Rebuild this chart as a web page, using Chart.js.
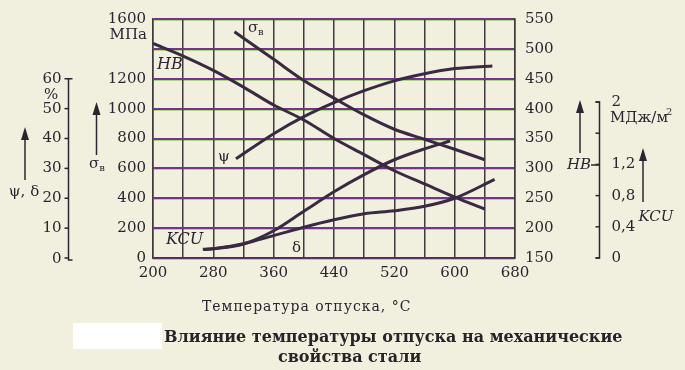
<!DOCTYPE html>
<html>
<head>
<meta charset="utf-8">
<script src="https://cdn.jsdelivr.net/npm/chart.js@4"></script>
<style>
  html, body { margin: 0; padding: 0; background: #f1f0df; }
  #wrap { width: 685px; height: 370px; position: relative; }
</style>
</head>
<body>
<div id="wrap"><canvas id="tempChart"></canvas></div>
<script>
(function() {
  var ink = '#2c2430';
  var gridV = '#403a3e';
  var gridH = '#74348c';
  var serif = '"DejaVu Serif", "Liberation Serif", serif';

  /* Data: temperature (°C) and values */
  var hbTemp   = [200, 240, 280, 320, 360, 400, 440, 480, 520, 560, 600, 640];
  var hbVal    = [509, 488, 464, 436, 406, 381, 350, 323, 296, 274, 252, 232];

  var sigTemp  = [308, 360, 400, 440, 480, 520, 560, 600, 640];
  var sigVal   = [1514, 1330, 1188, 1070, 958, 862, 795, 728, 658];

  var psiTemp  = [310, 360, 400, 440, 480, 520, 560, 600, 650];
  var psiVal   = [33.2, 41.6, 47.3, 52.0, 56.0, 59.3, 61.7, 63.4, 64.3];

  var deltaTemp = [266, 280, 320, 360, 400, 440, 480, 520, 560, 600, 653];
  var deltaVal  = [2.9, 3.1, 4.8, 7.5, 10.3, 12.8, 14.8, 15.8, 17.3, 20.0, 26.3];

  var kcuTemp  = [267, 280, 320, 360, 400, 440, 480, 520, 560, 594];
  var kcuVal   = [0.11, 0.12, 0.18, 0.35, 0.60, 0.85, 1.07, 1.26, 1.40, 1.50];

  /* Tick labels */
  var xLabelled   = [200, 280, 360, 440, 520, 600, 680];
  var pctTicks    = [0, 10, 20, 30, 40, 50, 60];
  var kcuTicks    = [0, 0.4, 0.8, 1.2, 1.6, 2];
  var kcuTickText = ['0', '0,4', '0,8', '1,2', '', '2'];

  function pairs(xs, ys) {
    return xs.map(function(x, i) { return { x: x, y: ys[i] }; });
  }

  function curve(data, axis) {
    return {
      data: data,
      yAxisID: axis,
      borderColor: '#3a2942',
      borderWidth: 3,
      pointRadius: 0,
      fill: false,
      showLine: true,
      tension: 0.4,
      cubicInterpolationMode: 'monotone'
    };
  }

  /* Background, side brackets, arrows and labels */
  var decor = {
    id: 'decor',
    beforeDraw: function(chart) {
      var c = chart.ctx;
      c.save();
      c.fillStyle = '#f1f0df';
      c.fillRect(0, 0, chart.width, chart.height);
      /* pale green doubling under the purple grid lines, as in the print */
      var ys = chart.scales.y;
      var area = chart.chartArea;
      c.strokeStyle = 'rgba(120, 190, 60, 0.55)';
      c.lineWidth = 1;
      ys.ticks.forEach(function(t) {
        var py = Math.round(ys.getPixelForValue(t.value)) + 1.5;
        c.beginPath();
        c.moveTo(area.left, py);
        c.lineTo(area.right, py);
        c.stroke();
      });
      c.restore();
    },
    afterDraw: function(chart) {
      var c = chart.ctx;
      var pct = chart.scales.yPct;
      var kcu = chart.scales.yKcu;
      c.save();
      c.strokeStyle = ink;
      c.fillStyle = ink;
      c.lineWidth = 1.5;

      /* ψ, δ bracket axis */
      var ax = 68.5;
      var top = pct.getPixelForValue(60), bot = pct.getPixelForValue(0);
      c.beginPath();
      c.moveTo(ax + 4, top); c.lineTo(ax, top); c.lineTo(ax, bot + 2); c.lineTo(ax + 4, bot + 2);
      c.stroke();
      c.font = '15px ' + serif;
      c.textAlign = 'right';
      c.textBaseline = 'middle';
      pctTicks.forEach(function(v) {
        var py = pct.getPixelForValue(v);
        c.beginPath(); c.moveTo(ax - 4, py); c.lineTo(ax, py); c.stroke();
        c.fillText(String(v), ax - 7, py + (v === 0 ? 1 : 0));
      });
      c.textAlign = 'left';
      c.fillText('%', 44, 95);

      /* KCU bracket axis */
      var kx = 599.5;
      var ktop = kcu.getPixelForValue(2), kbot = kcu.getPixelForValue(0);
      c.beginPath();
      c.moveTo(kx - 4, ktop); c.lineTo(kx, ktop); c.lineTo(kx, kbot); c.lineTo(kx - 4, kbot);
      c.stroke();
      kcuTicks.forEach(function(v, i) {
        var py = kcu.getPixelForValue(v);
        c.beginPath(); c.moveTo(kx - 4, py); c.lineTo(kx, py); c.stroke();
        if (kcuTickText[i]) c.fillText(kcuTickText[i], kx + 12, py);
      });
      c.fillText('МДж/м', 610, 118);
      c.font = '10px ' + serif;
      c.fillText('2', 666, 112);

      /* arrows */
      function arrow(x, y0, y1) {
        c.beginPath(); c.moveTo(x, y0); c.lineTo(x, y1 + 8); c.stroke();
        c.beginPath(); c.moveTo(x, y1); c.lineTo(x - 4, y1 + 13); c.lineTo(x + 4, y1 + 13); c.closePath(); c.fill();
      }
      arrow(25, 180, 127);
      arrow(96.5, 155, 102);
      arrow(580, 153, 100);
      arrow(643, 202, 148);

      /* axis names */
      c.font = '15px ' + serif;
      c.textAlign = 'center';
      c.fillText('ψ, δ', 24, 192);
      c.fillText('σ', 94, 164);
      c.font = '10px ' + serif;
      c.fillText('в', 102, 168);
      c.font = 'italic 15px ' + serif;
      c.fillText('HB', 579, 165);
      c.beginPath(); c.moveTo(591, 165); c.lineTo(kx, 165); c.stroke();
      c.fillText('KCU', 656, 217);

      /* unit over the left axis */
      c.font = '15px ' + serif;
      c.textAlign = 'right';
      c.fillText('МПа', 147, 35);

      /* in-plot curve labels */
      c.textAlign = 'left';
      c.font = 'italic 16px ' + serif;
      c.fillText('HB', 157, 65);
      c.fillText('KCU', 166, 240);
      c.font = '15px ' + serif;
      c.fillText('σ', 248, 28);
      c.font = '10px ' + serif;
      c.fillText('в', 258, 32);
      c.font = '15px ' + serif;
      c.fillText('ψ', 218, 157);
      c.fillText('δ', 292, 248);

      /* axis title and caption */
      c.font = '14px ' + serif;
      c.letterSpacing = '1px';
      c.fillText('Температура отпуска, °C', 202, 307);
      c.letterSpacing = '0px';
      c.fillStyle = '#ffffff';
      c.fillRect(73, 323, 89, 26);
      c.fillStyle = '#2a2228';
      c.font = 'bold 16px ' + serif;
      c.fillText('Влияние температуры отпуска на механические', 164, 338);
      c.fillText('свойства стали', 278, 358);
      c.restore();
    }
  };

  var ctx = document.getElementById('tempChart');

  new Chart(ctx, {
    type: 'scatter',
    data: {
      datasets: [
        curve(pairs(hbTemp, hbVal), 'yHB'),
        curve(pairs(sigTemp, sigVal), 'y'),
        curve(pairs(psiTemp, psiVal), 'yPct'),
        curve(pairs(deltaTemp, deltaVal), 'yPct'),
        curve(pairs(kcuTemp, kcuVal), 'yKcu')
      ]
    },
    options: {
      responsive: true,
      maintainAspectRatio: false,
      animation: false,
      layout: { padding: { top: 16, right: 0, bottom: 0, left: 0 } },
      plugins: {
        legend: { display: false },
        tooltip: { enabled: false }
      },
      scales: {
        x: {
          type: 'linear',
          min: 200,
          max: 680,
          grid: { color: gridV, lineWidth: 1.5, drawTicks: false },
          border: { color: gridV, width: 1.5 },
          ticks: {
            stepSize: 40,
            autoSkip: false,
            maxRotation: 0,
            padding: 6,
            color: ink,
            font: { size: 15, family: serif },
            callback: function(v) { return xLabelled.indexOf(v) >= 0 ? v : ''; }
          },
          afterFit: function(s) { s.height = 112; }
        },
        y: {
          position: 'left',
          min: 0,
          max: 1600,
          grid: { color: gridH, lineWidth: 2, drawTicks: false },
          border: { color: gridV, width: 1.5 },
          ticks: {
            stepSize: 200,
            padding: 7,
            color: ink,
            font: { size: 15, family: serif },
            callback: function(v) { return v === 1400 ? '' : v; }
          },
          afterFit: function(s) { s.width = 153; }
        },
        yHB: {
          position: 'right',
          min: 150,
          max: 550,
          grid: { drawOnChartArea: false, drawTicks: false },
          border: { color: gridV, width: 1.5 },
          ticks: {
            stepSize: 50,
            padding: 10,
            color: ink,
            font: { size: 15, family: serif }
          },
          afterFit: function(s) { s.width = 170; }
        },
        yPct: { display: false, min: 0, max: 80 },
        yKcu: { display: false, min: 0, max: 3.065 }
      }
    },
    plugins: [decor]
  });
})();
</script>
</body>
</html>
